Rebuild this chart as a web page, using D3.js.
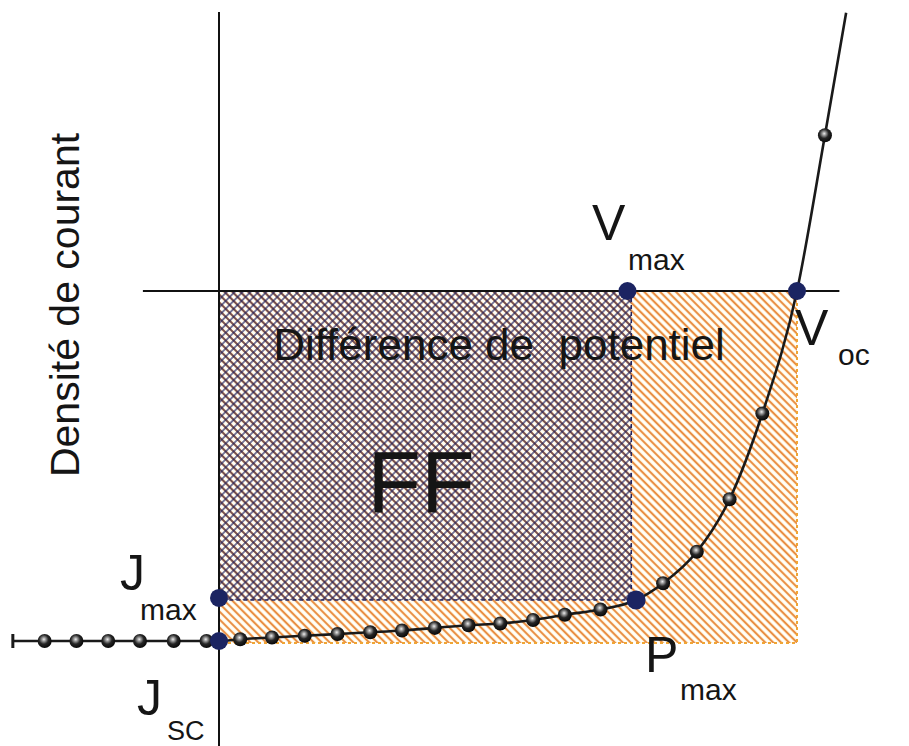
<!DOCTYPE html>
<html><head><meta charset="utf-8">
<script src="https://cdn.jsdelivr.net/npm/d3@7"></script>
<style>
html,body{margin:0;padding:0;background:#fff;}
svg{display:block;}
text{font-family:"Liberation Sans",Arial,sans-serif;fill:#151515;}
</style></head>
<body>
<svg id="chart" width="909" height="746"></svg>
<script>
// ---- data (V in volts, J in mA/cm²) ----
const curveV = [-0.214,-0.181,-0.148,-0.115,-0.082,-0.047,-0.013,0,0.022,0.055,0.089,0.123,0.157,0.190,0.224,0.259,0.292,0.326,0.359,0.396,0.433,0.461,0.496,0.530,0.564,0.600,0.629,0.651];
const curveJ = [-20,-20,-20,-20,-20,-20,-20,-20,-19.9,-19.8,-19.7,-19.6,-19.5,-19.4,-19.25,-19.1,-19.0,-18.8,-18.5,-18.2,-17.66,-16.7,-14.9,-11.9,-7.0,0,8.9,15.9];
const beadV = [-0.181,-0.148,-0.115,-0.082,-0.047,-0.013,0.022,0.055,0.089,0.123,0.157,0.190,0.224,0.259,0.292,0.326,0.359,0.396,0.461,0.496,0.530,0.564,0.629];
const Voc = 0.600, Jsc = -20.0;
const Vmax = 0.428, Jmax = -17.66;
const keyNames = ["Vmax","Voc","Jmax","Jsc","Pmax"];
const keyV = [0.424, 0.600, 0.0, 0.0, 0.433];
const keyJ = [0.0, 0.0, -17.54, -20.0, -17.66];
const axisV = [-0.079, 0.644];   // horizontal axis extent
const axisJ = [15.94, -26.0];     // vertical axis extent

const svg = d3.select("#chart");
const x = d3.scaleLinear().domain([0, 0.6]).range([219, 797]);
const y = d3.scaleLinear().domain([0, -20]).range([291, 641]);

// ---- patterns ----
const defs = svg.append("defs");
function hatch(id, angle, layers){
  const p = defs.append("pattern").attr("id", id)
    .attr("patternUnits","userSpaceOnUse").attr("width",5.6).attr("height",5.6)
    .attr("patternTransform",`rotate(${angle})`);
  layers.forEach(l => p.append("line").attr("x1",2.8).attr("x2",2.8).attr("y1",-1).attr("y2",7)
      .attr("stroke",l[0]).attr("stroke-width",l[1]));
}
hatch("orange", -45, [["#f7cf6a",2.4],["#e0602a",1.1]]);
hatch("navyB", -45, [["#23245e",1.1]]);
hatch("navyF", 45, [["#23245e",1.2]]);

const bead = defs.append("radialGradient").attr("id","bead").attr("cx","42%").attr("cy","40%").attr("r","60%").attr("fx","45%").attr("fy","38%");
bead.append("stop").attr("offset","0%").attr("stop-color","#eeeeee");
bead.append("stop").attr("offset","22%").attr("stop-color","#9a9a9a");
bead.append("stop").attr("offset","55%").attr("stop-color","#262626");
bead.append("stop").attr("offset","100%").attr("stop-color","#080808");

// ---- axes ----
svg.append("line").attr("x1",x(0)).attr("x2",x(0)).attr("y1",y(axisJ[0])).attr("y2",y(axisJ[1]))
  .attr("stroke","#111").attr("stroke-width",2);
svg.append("line").attr("x1",x(axisV[0])).attr("x2",x(axisV[1])).attr("y1",y(0)).attr("y2",y(0))
  .attr("stroke","#111").attr("stroke-width",2);

// ---- hatched regions ----
svg.append("rect").attr("x",x(0)+1).attr("y",y(0)+1).attr("width",x(Voc)-x(0)-1).attr("height",y(Jsc)-y(0)+1)
  .attr("fill","url(#orange)");
svg.append("path").attr("d",`M${x(Voc)},${y(0)}V${y(Jsc)+2}H${x(0)}`)
  .attr("fill","none").attr("stroke","#f0a535").attr("stroke-width",2).attr("stroke-dasharray","3,3");
svg.append("rect").attr("x",x(0)+1).attr("y",y(0)+1).attr("width",x(Vmax)-x(0)-1).attr("height",y(Jmax)-y(0)-1)
  .attr("fill","url(#navyB)");
svg.append("rect").attr("x",x(0)+1).attr("y",y(0)+1).attr("width",x(Vmax)-x(0)-1).attr("height",y(Jmax)-y(0)-1)
  .attr("fill","url(#navyF)");
svg.append("path").attr("d",`M${x(Vmax)},${y(0)}V${y(Jmax)}H${x(0)}`)
  .attr("fill","none").attr("stroke","#23245e").attr("stroke-width",1.5).attr("stroke-dasharray","4,3");

// ---- curve ----
const pts = curveV.map((v,i)=>[v,curveJ[i]]);
const line = d3.line().x(d=>x(d[0])).y(d=>y(d[1])).curve(d3.curveMonotoneX);
svg.append("path").attr("d",line(pts)).attr("fill","none").attr("stroke","#1a1a1a").attr("stroke-width",2.6);
svg.append("line").attr("x1",x(curveV[0])).attr("x2",x(curveV[0]))
  .attr("y1",y(curveJ[0])-7).attr("y2",y(curveJ[0])+7).attr("stroke","#1a1a1a").attr("stroke-width",3);

const beadJ = beadV.map(v => curveJ[curveV.indexOf(v)]);
svg.append("g").selectAll("circle").data(beadV).join("circle")
  .attr("cx",d=>x(d)).attr("cy",(d,i)=>y(beadJ[i])).attr("r",7).attr("fill","url(#bead)");

// ---- key points ----
svg.append("g").selectAll("circle").data(keyNames).join("circle")
  .attr("cx",(d,i)=>x(keyV[i])).attr("cy",(d,i)=>y(keyJ[i])).attr("r",(d)=>d==="Pmax"?9.5:9)
  .attr("fill","#1b2462");

// ---- labels ----
function lbl(t,xx,yy,size,anchor){
  return svg.append("text").attr("x",xx).attr("y",yy).attr("font-size",size)
    .attr("text-anchor",anchor||"start").text(t);
}
svg.append("text").attr("transform","translate(79,305) rotate(-90)").attr("text-anchor","middle")
  .attr("font-size",41).text("Densité de courant");
lbl("Différence de  potentiel", 499, 360, 44, "middle").style("white-space","pre");
lbl("FF", 421, 512, 88, "middle");
lbl("V", 592, 240, 50); lbl("max", 628, 270, 30);
lbl("V", 795, 345, 50); lbl("oc", 838, 365, 30);
lbl("J", 120, 590, 50); lbl("max", 140, 620, 30);
lbl("J", 137, 715, 50); lbl("SC", 167, 740, 27);
lbl("P", 645, 672, 50); lbl("max", 680, 700, 30);
</script>
</body></html>
